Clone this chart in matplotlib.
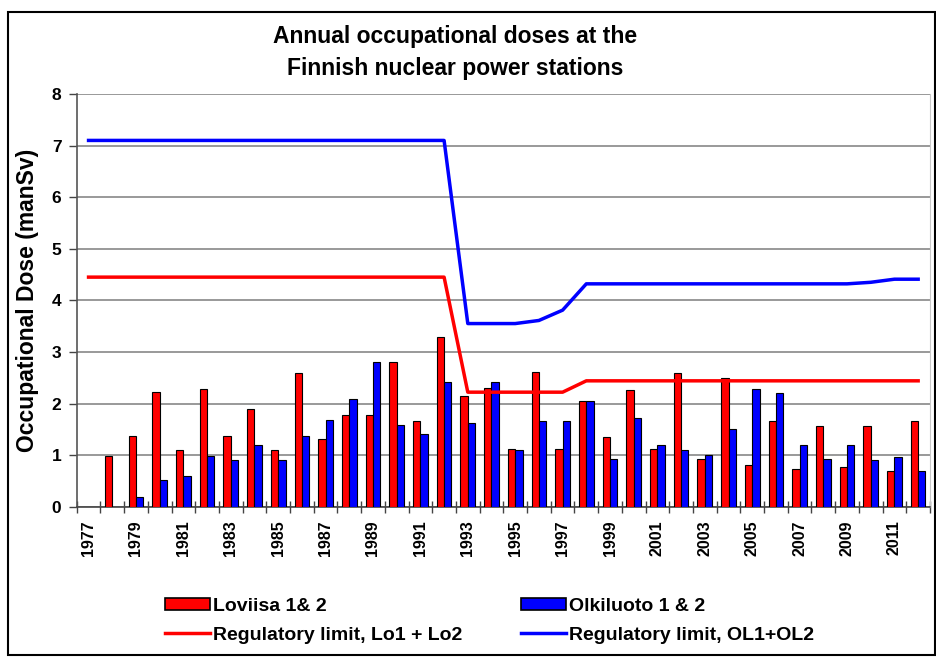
import numpy as np
import matplotlib
matplotlib.use("Agg")
import matplotlib.pyplot as plt
from matplotlib.patches import Patch, Rectangle
from matplotlib.lines import Line2D

plt.rcParams['font.family'] = ['Liberation Sans', 'DejaVu Sans']

years = list(range(1977, 2013))
tick_years = list(range(1977, 2012, 2))

loviisa = [np.nan, 0.99, 1.37, 2.22, 1.10, 2.29, 1.37, 1.89, 1.10, 2.60, 1.31,
           1.78, 1.78, 2.81, 1.67, 3.29, 2.15, 2.31, 1.12, 2.62, 1.12,
           2.05, 1.36, 2.26, 1.12, 2.60, 0.92, 2.50, 0.81, 1.67, 0.74,
           1.56, 0.76, 1.56, 0.70, 1.67]
olkiluoto = [np.nan, np.nan, 0.19, 0.51, 0.59, 0.98, 0.90, 1.19, 0.90, 1.37, 1.69,
             2.09, 2.81, 1.58, 1.41, 2.41, 1.62, 2.41, 1.10, 1.67, 1.67,
             2.05, 0.92, 1.72, 1.19, 1.10, 1.00, 1.50, 2.29, 2.21, 1.20,
             0.93, 1.20, 0.90, 0.96, 0.70]
limit_lo = [4.45] * 16 + [2.22] * 5 + [2.44] * 15
limit_ol = [7.1] * 16 + [3.55, 3.55, 3.55, 3.61, 3.81] + [4.32] * 12 + [4.35, 4.41, 4.41]

W, H = 937, 659
fig = plt.figure(figsize=(W / 100, H / 100), dpi=100)
fig.patches.append(Rectangle((8 / W, 4 / H), 927 / W, 643 / H, transform=fig.transFigure,
                             fill=False, edgecolor='black', linewidth=1.5))

ax = fig.add_axes([76.7 / W, 1 - 506.7 / H, (930 - 76.7) / W, (506.7 - 94) / H])
x = np.arange(len(years))
bw = 0.31
ax.bar(x - bw / 2, loviisa, bw, color='#ff0000', edgecolor='black', linewidth=0.8, zorder=3)
ax.bar(x + bw / 2, olkiluoto, bw, color='#0000ff', edgecolor='black', linewidth=0.8, zorder=3)
ax.plot(x, limit_lo, color='#ff0000', linewidth=2.5, zorder=4)
ax.plot(x, limit_ol, color='#0000ff', linewidth=2.5, zorder=4)

ax.set_xlim(-0.5, len(years) - 0.5)
ax.set_ylim(0, 8)
ax.set_yticks(range(0, 9))
ax.set_yticklabels([str(v) for v in range(0, 9)], fontsize=12.5, fontweight='bold')
ax.yaxis.grid(True, color='#888888', linewidth=1.2, zorder=0)
ax.set_axisbelow(True)

ax.set_xticks([years.index(y) for y in tick_years])
ax.set_xticklabels([str(y) for y in tick_years], rotation=90, fontsize=11.5, fontweight='bold')
ax.set_xticks(np.arange(-0.5, len(years), 1.0), minor=True)
ax.tick_params(axis='x', which='major', length=0, pad=10)
ax.tick_params(axis='x', which='minor', length=9, direction='inout', color='#444444', width=1)
ax.tick_params(axis='y', length=6, direction='out', color='#444444', width=1, pad=5)

ax.spines['top'].set_visible(False)
ax.spines['right'].set_color('#c8c8c8')
ax.spines['left'].set_color('#555555')
ax.spines['bottom'].set_color('#444444')
ax.spines['left'].set_linewidth(1.2)
ax.spines['bottom'].set_linewidth(1.2)

ax.set_ylabel('Occupational Dose (manSv)', fontsize=16.5, fontweight='bold', labelpad=9)

fig.text(455 / W, 1 - 36 / H, 'Annual occupational doses at the', ha='center', va='center',
         fontsize=16.5, fontweight='bold')
fig.text(455 / W, 1 - 68 / H, 'Finnish nuclear power stations', ha='center', va='center',
         fontsize=16.5, fontweight='bold')

handles = [Patch(facecolor='#ff0000', edgecolor='black', linewidth=1.2),
           Line2D([], [], color='#ff0000', linewidth=2.5),
           Patch(facecolor='#0000ff', edgecolor='black', linewidth=1.2),
           Line2D([], [], color='#0000ff', linewidth=2.5)]
labels = ['Loviisa 1& 2', 'Regulatory limit, Lo1 + Lo2',
          'Olkiluoto 1 & 2', 'Regulatory limit, OL1+OL2']
fig.legend(handles, labels, ncol=2, loc='upper left', bbox_to_anchor=(165 / W, 1 - 598 / H),
           frameon=False, prop={'size': 14, 'weight': 'bold'}, handlelength=2.3,
           handleheight=0.6, handletextpad=0.15, columnspacing=3.05, labelspacing=0.6,
           borderpad=0, borderaxespad=0)

fig.savefig('out.png', dpi=100)
